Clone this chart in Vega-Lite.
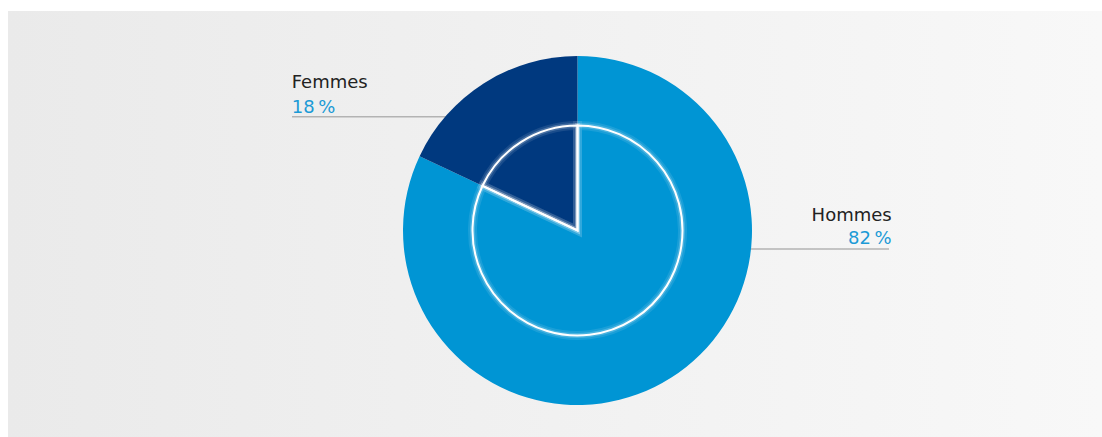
{
  "$schema": "https://vega.github.io/schema/vega-lite/v6.json",
  "width": 1102,
  "height": 437,
  "autosize": {"type": "fit", "contains": "padding"},
  "padding": {"left": 8, "top": 11, "right": 0, "bottom": 0},
  "background": "#ffffff",
  "config": {
    "view": {
      "stroke": null,
      "fill": {
        "gradient": "linear",
        "x1": 0, "y1": 0, "x2": 1, "y2": 0,
        "stops": [
          {"offset": 0, "color": "#eaeaea"},
          {"offset": 1, "color": "#f8f8f8"}
        ]
      }
    },
    "text": {"font": "DejaVu Sans", "fontSize": 18}
  },
  "data": {
    "values": [
      {"sexe": "Hommes", "part": 82, "rang": 1},
      {"sexe": "Femmes", "part": 18, "rang": 2}
    ]
  },
  "layer": [
    {
      "transform": [{"filter": "datum.sexe === 'Femmes'"}],
      "mark": {"type": "rule", "stroke": "#b3b3b3", "strokeWidth": 1.5},
      "encoding": {
        "x": {"value": 284},
        "x2": {"value": 480},
        "y": {"value": 105.7}
      }
    },
    {
      "transform": [{"filter": "datum.sexe === 'Hommes'"}],
      "mark": {"type": "rule", "stroke": "#b3b3b3", "strokeWidth": 1.5},
      "encoding": {
        "x": {"value": 700},
        "x2": {"value": 881},
        "y": {"value": 238}
      }
    },
    {
      "mark": {"type": "arc", "outerRadius": 174.5},
      "encoding": {
        "x": {"value": 569.5},
        "y": {"value": 219.5},
        "theta": {"field": "part", "type": "quantitative", "stack": true},
        "order": {"field": "rang", "type": "quantitative"},
        "color": {
          "field": "sexe",
          "type": "nominal",
          "scale": {"domain": ["Hommes", "Femmes"], "range": ["#0095d4", "#00397f"]},
          "legend": null
        }
      }
    },
    {
      "mark": {"type": "arc", "outerRadius": 105, "fill": null, "stroke": "#ffffff", "strokeWidth": 9, "strokeOpacity": 0.1},
      "encoding": {
        "x": {"value": 569.5},
        "y": {"value": 219.5},
        "theta": {"field": "part", "type": "quantitative", "stack": true},
        "order": {"field": "rang", "type": "quantitative"}
      }
    },
    {
      "mark": {"type": "arc", "outerRadius": 105, "fill": null, "stroke": "#ffffff", "strokeWidth": 5, "strokeOpacity": 0.2},
      "encoding": {
        "x": {"value": 569.5},
        "y": {"value": 219.5},
        "theta": {"field": "part", "type": "quantitative", "stack": true},
        "order": {"field": "rang", "type": "quantitative"}
      }
    },
    {
      "mark": {"type": "arc", "outerRadius": 105, "fill": null, "stroke": "#ffffff", "strokeWidth": 2},
      "encoding": {
        "x": {"value": 569.5},
        "y": {"value": 219.5},
        "theta": {"field": "part", "type": "quantitative", "stack": true},
        "order": {"field": "rang", "type": "quantitative"}
      }
    },
    {
      "transform": [{"filter": "datum.sexe === 'Femmes'"}],
      "mark": {"type": "text", "align": "left", "color": "#222222"},
      "encoding": {
        "x": {"value": 283.7},
        "y": {"value": 72.3},
        "text": {"field": "sexe"}
      }
    },
    {
      "transform": [{"filter": "datum.sexe === 'Femmes'"}, {"calculate": "datum.part + '\u202f%'", "as": "libelle"}],
      "mark": {"type": "text", "align": "left", "color": "#1b9ad6"},
      "encoding": {
        "x": {"value": 283.7},
        "y": {"value": 96.7},
        "text": {"field": "libelle"}
      }
    },
    {
      "transform": [{"filter": "datum.sexe === 'Hommes'"}],
      "mark": {"type": "text", "align": "right", "color": "#222222"},
      "encoding": {
        "x": {"value": 883.7},
        "y": {"value": 205},
        "text": {"field": "sexe"}
      }
    },
    {
      "transform": [{"filter": "datum.sexe === 'Hommes'"}, {"calculate": "datum.part + '\u202f%'", "as": "libelle"}],
      "mark": {"type": "text", "align": "right", "color": "#1b9ad6"},
      "encoding": {
        "x": {"value": 883.7},
        "y": {"value": 228.3},
        "text": {"field": "libelle"}
      }
    }
  ]
}
